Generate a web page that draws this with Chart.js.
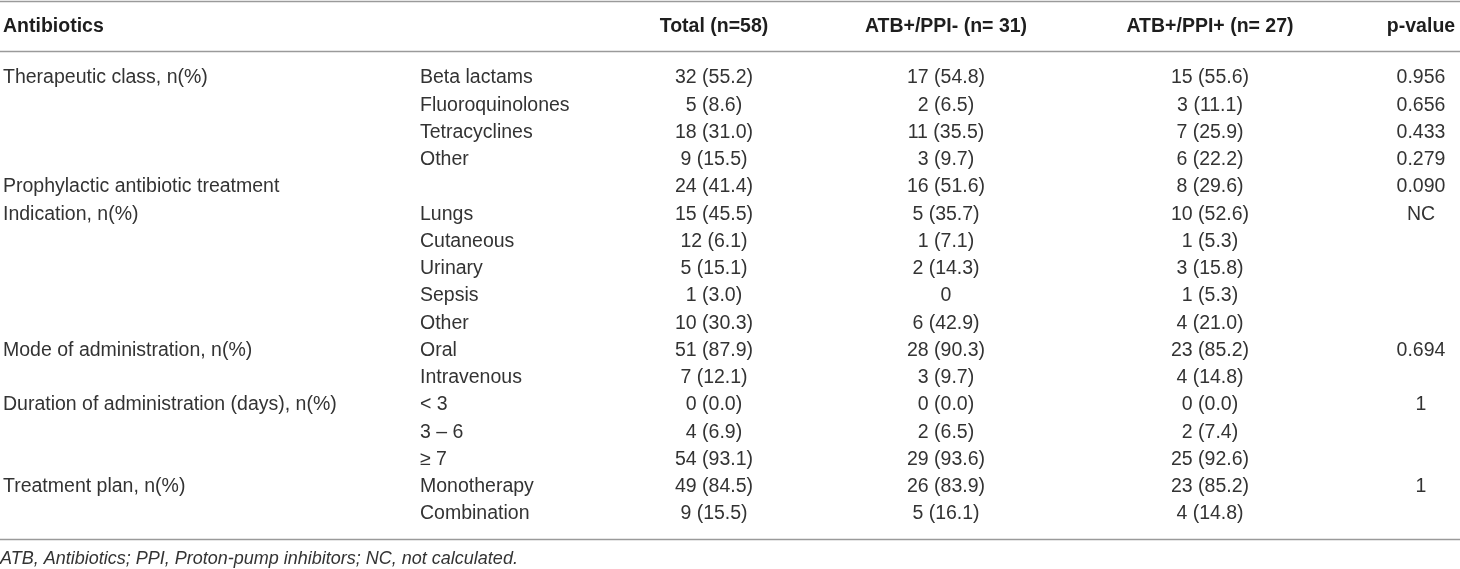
<!DOCTYPE html>
<html>
<head>
<meta charset="utf-8">
<script src="https://cdn.jsdelivr.net/npm/chart.js@4.4.1/dist/chart.umd.min.js"></script>
<style>
  html, body { margin: 0; padding: 0; background: #fff; }
  #wrap { width: 1460px; height: 569px; position: relative; }
</style>
</head>
<body>
<div id="wrap"><canvas id="tbl"></canvas></div>
<script>
// table content
const headers = ['Antibiotics', '', 'Total (n=58)', 'ATB+/PPI- (n= 31)', 'ATB+/PPI+ (n= 27)', 'p-value'];
const groupLabels = ['Therapeutic class, n(%)', '', '', '', 'Prophylactic antibiotic treatment',
  'Indication, n(%)', '', '', '', '', 'Mode of administration, n(%)', '',
  'Duration of administration (days), n(%)', '', '', 'Treatment plan, n(%)', ''];
const subLabels = ['Beta lactams', 'Fluoroquinolones', 'Tetracyclines', 'Other', '',
  'Lungs', 'Cutaneous', 'Urinary', 'Sepsis', 'Other', 'Oral', 'Intravenous',
  '< 3', '3 \u2013 6', '\u2265 7', 'Monotherapy', 'Combination'];
const totalVals = ['32 (55.2)', '5 (8.6)', '18 (31.0)', '9 (15.5)', '24 (41.4)', '15 (45.5)',
  '12 (6.1)', '5 (15.1)', '1 (3.0)', '10 (30.3)', '51 (87.9)', '7 (12.1)', '0 (0.0)',
  '4 (6.9)', '54 (93.1)', '49 (84.5)', '9 (15.5)'];
const ppiNegVals = ['17 (54.8)', '2 (6.5)', '11 (35.5)', '3 (9.7)', '16 (51.6)', '5 (35.7)',
  '1 (7.1)', '2 (14.3)', '0', '6 (42.9)', '28 (90.3)', '3 (9.7)', '0 (0.0)',
  '2 (6.5)', '29 (93.6)', '26 (83.9)', '5 (16.1)'];
const ppiPosVals = ['15 (55.6)', '3 (11.1)', '7 (25.9)', '6 (22.2)', '8 (29.6)', '10 (52.6)',
  '1 (5.3)', '3 (15.8)', '1 (5.3)', '4 (21.0)', '23 (85.2)', '4 (14.8)', '0 (0.0)',
  '2 (7.4)', '25 (92.6)', '23 (85.2)', '4 (14.8)'];
const pValues = ['0.956', '0.656', '0.433', '0.279', '0.090', 'NC', '', '', '', '', '0.694', '',
  '1', '', '', '1', ''];
const footnote = 'ATB, Antibiotics; PPI, Proton-pump inhibitors; NC, not calculated.';

// layout (x in page px, y in row units)
const colX = [3, 420, 714, 946, 1210, 1421];
const colAlign = ['left', 'left', 'center', 'center', 'center', 'center'];
const FONT = '"Liberation Sans", Arial, Helvetica, sans-serif';
const TEXT = '#333333';
const HEAD = '#1e1e1e';
const RULE = '#9a9a9a';

const columns = [groupLabels, subLabels, totalVals, ppiNegVals, ppiPosVals, pValues];

const tablePlugin = {
  id: 'tableText',
  afterDatasetsDraw(chart) {
    const ctx = chart.ctx;
    const xs = chart.scales.x, ys = chart.scales.y;
    ctx.save();
    // rules
    ctx.strokeStyle = RULE;
    ctx.lineWidth = 1.5;
    [-2.826, -0.99, 16.92].forEach(r => {
      const y = Math.round(ys.getPixelForValue(r)) + 0.5;
      ctx.beginPath();
      ctx.moveTo(xs.getPixelForValue(0), y);
      ctx.lineTo(xs.getPixelForValue(1460), y);
      ctx.stroke();
    });
    ctx.textBaseline = 'middle';
    // header row
    ctx.fillStyle = HEAD;
    ctx.font = 'bold 19.5px ' + FONT;
    headers.forEach((h, c) => {
      ctx.textAlign = colAlign[c];
      ctx.fillText(h, xs.getPixelForValue(colX[c]), ys.getPixelForValue(-1.87));
    });
    // body cells from dataset elements
    ctx.fillStyle = TEXT;
    ctx.font = '19.5px ' + FONT;
    chart.data.datasets.forEach((ds, c) => {
      const meta = chart.getDatasetMeta(c);
      ctx.textAlign = colAlign[c];
      meta.data.forEach((el, i) => {
        const t = ds.data[i].text;
        if (t) ctx.fillText(t, el.x, el.y);
      });
    });
    // footnote
    ctx.font = 'italic 18px ' + FONT;
    ctx.textAlign = 'left';
    ctx.fillText(footnote, xs.getPixelForValue(0), ys.getPixelForValue(17.65));
    ctx.restore();
  }
};

new Chart(document.getElementById('tbl'), {
  type: 'scatter',
  data: {
    datasets: columns.map((col, c) => ({
      label: headers[c],
      data: col.map((t, i) => ({ x: colX[c], y: i, text: t })),
      pointRadius: 0,
      pointHoverRadius: 0
    }))
  },
  options: {
    responsive: true,
    maintainAspectRatio: false,
    animation: false,
    devicePixelRatio: 1,
    layout: { padding: 0 },
    plugins: { legend: { display: false }, tooltip: { enabled: false } },
    scales: {
      x: { type: 'linear', min: 0, max: 1460, display: false },
      y: { type: 'linear', min: -2.862, max: 18.018, reverse: true, display: false }
    }
  },
  plugins: [tablePlugin]
});
</script>
</body>
</html>
